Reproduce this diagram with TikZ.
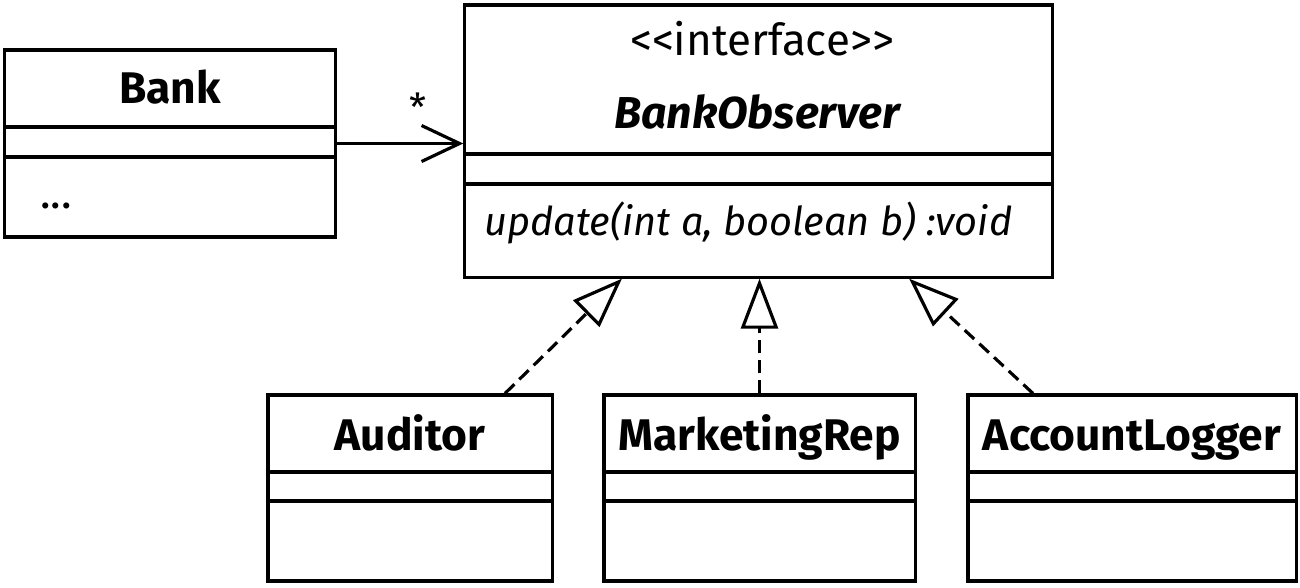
\documentclass[tikz,border=0pt]{standalone}
\usepackage{fontspec}
\setmainfont{Fira Sans}
\usetikzlibrary{arrows.meta}

\begin{document}
\begin{tikzpicture}[x=0.01cm,y=-0.01cm,line width=0.9pt,
  cls/.style={draw,rectangle,inner sep=0pt},
  nm/.style={anchor=base,font=\fontsize{12.6}{14}\selectfont\bfseries},
  txt/.style={anchor=base,font=\fontsize{12.5}{14}\selectfont},
  impl/.style={dash pattern=on 0.13cm off 0.07cm,-{Triangle[open,length=0.5cm,width=0.37cm]}}]
\useasboundingbox (0,0) rectangle (1300,587);
% Bank
\node[cls,minimum width=3.3cm,minimum height=1.87cm] (bank) at (170,143.5) {};
\node[nm] (bank-t) at (170,103) {Bank};
\draw (5,127) -- (335,127) (5,157) -- (335,157);
\node[txt,anchor=base west] (bank-op) at (27,208) {...};
% interface
\node[cls,minimum width=5.87cm,minimum height=2.72cm] (obs) at (758.5,141) {};
\node[txt] (obs-s) at (762,55) {<{}<interface>{}>};
\node[nm,font=\fontsize{12.7}{14}\selectfont\bfseries\itshape] (obs-t) at (757,128) {BankObserver};
\draw (465,154) -- (1052,154) (465,184) -- (1052,184);
\node[txt,anchor=base west,font=\fontsize{11.3}{13}\selectfont\itshape] (obs-op) at (471,235) {update(int a, boolean b) :void};
% observers
\foreach \n/\x/\w/\t in {aud/410/2.84/Auditor,mkt/759.5/3.11/MarketingRep,acc/1132/3.28/AccountLogger}{
  \node[cls,minimum width=\w cm,minimum height=1.86cm] (\n) at (\x,488) {};
  \node[nm] (\n-t) at (\x,450) {\t};
  \draw (\n.west |- 0,472) -- (\n.east |- 0,472) (\n.west |- 0,501) -- (\n.east |- 0,501);
}
% links
\draw[-{Straight Barb[length=0.38cm,width=0.36cm]}] (bank.east) -- (bank.east -| obs.west)
  node[pos=0.64,above=0.2cm,inner sep=0pt,font=\fontsize{11}{13}\selectfont] (mult) {*};
\draw[impl] ([xshift=0.95cm]aud.north) -- ([xshift=-1.365cm]obs.south);
\draw[impl] (mkt.north) -- (mkt.north |- obs.south);
\draw[impl] ([xshift=-0.99cm]acc.north) -- ([xshift=1.505cm]obs.south);
\end{tikzpicture}
\end{document}
